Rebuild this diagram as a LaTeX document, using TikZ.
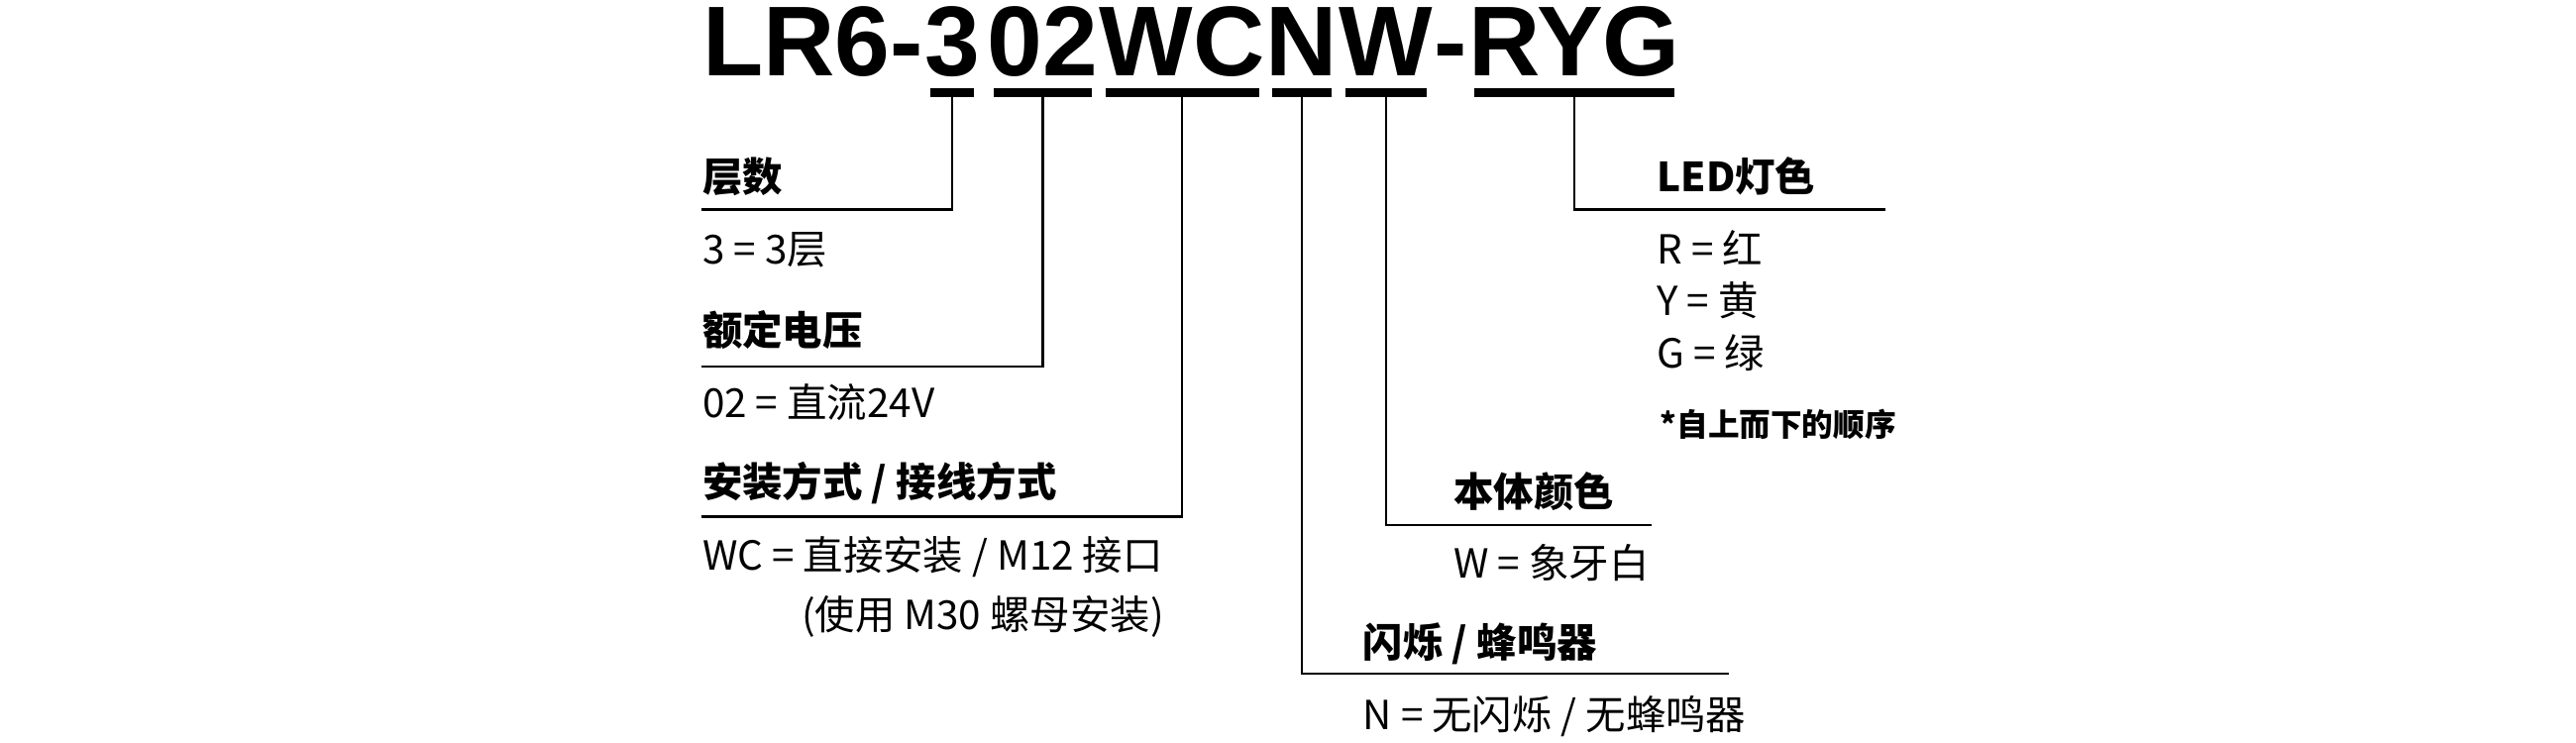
\documentclass[tikz,border=0pt]{standalone}
\usepackage{fontspec}
\setmainfont{Noto Sans CJK SC}
\newfontfamily\titlefont{Liberation Sans}
\usetikzlibrary{positioning,calc}
\tikzset{
  code/.style={inner sep=0pt, anchor=base west, font=\titlefont\bfseries\fontsize{28.5}{30}\selectfont},
  head/.style={inner sep=0pt, anchor=base west, font=\bfseries\fontsize{11.5}{14}\selectfont},
  body/.style={inner sep=0pt, anchor=base west, font=\fontsize{11.5}{14}\selectfont},
  bar/.style={line width=2.6pt},
  lead/.style={line width=0.7pt}
}
\begin{document}
\begin{tikzpicture}[x=1cm/60, y=-1cm/60]
				\useasboundingbox (0,0) rectangle (1560,450);
				% part number
				\node[code] (pre) at (425,46) {LR6-};
				\node[code, anchor=base west] (t3) at (pre.base east) {3};
				\node[code, anchor=base west] (t02) at ($(t3.base east)+(4,0)$) {02};
				\node[code, anchor=base west] (twc) at (t02.base east) {WC};
				\node[code, anchor=base west] (tn) at (twc.base east) {N};
				\node[code, anchor=base west] (tw) at (tn.base east) {W};
				\node[code, anchor=base west] (dash) at (tw.base east) {-};
				\node[code, anchor=base west] (tryg) at (dash.base east) {RYG};
				% bars under the groups
				\foreach \p in {t3,t02,twc,tn,tw,tryg}{
					\draw[bar] ($(\p.base west)+(4,10)$) -- ($(\p.base east)+(-4,10)$);
					\coordinate (b\p) at ($(\p.base)+(0,10)$);
				}
				% leads
				\coordinate (ht3) at (425,127);
				\coordinate (ht02) at (425,222);
				\coordinate (htwc) at (425,313);
				\coordinate (htn) at (1047,408);
				\coordinate (htw) at (1000,318);
				\coordinate (htryg) at (1142,127);
				\foreach \p in {t3,t02,twc,tn,tw,tryg}
					\draw[lead] (b\p) |- (h\p);
				% texts
				\node[head] (l3) at (425,116) {层数};
				\node[body] (v3) at (425,160) {3 = 3层};
				\node[head] (l02) at (425,209) {额定电压};
				\node[body] (v02) at (425,253) {02 = 直流24V};
				\node[head] (lwc) at (425,301) {安装方式 / 接线方式};
				\node[body] (vwc) at (425,345) {WC = 直接安装 / M12 接口};
				\node[body] (vwc2) at (485,381) {(使用 M30 螺母安装)};
				\node[head] (ln) at (825,398) {闪烁 / 蜂鸣器};
				\node[body] (vn) at (825,442) {N = 无闪烁 / 无蜂鸣器};
				\node[head] (lw) at (880,307) {本体颜色};
				\node[body] (vw) at (880,350) {W = 象牙白};
				\node[head] (lryg) at (1003,116) {LED灯色};
				\node[body] (vr) at (1003,160) {R = 红};
				\node[body] (vy) at (1003,191) {Y = 黄};
				\node[body] (vg) at (1003,223) {G = 绿};
				\node[body, font=\bfseries\fontsize{9}{10}\selectfont] (note) at (1005,264) {*自上而下的顺序};
			\end{tikzpicture}
\end{document}
